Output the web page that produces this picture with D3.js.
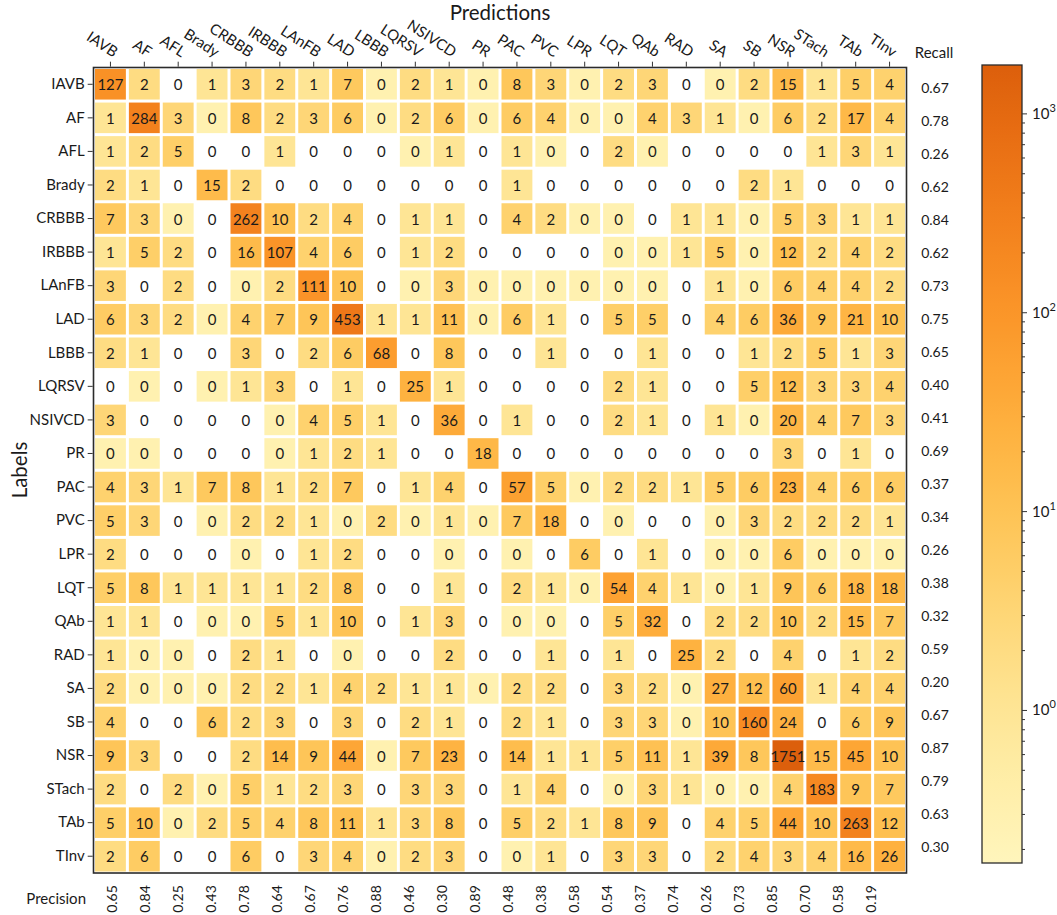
<!DOCTYPE html>
<html>
<head>
<meta charset="utf-8">
<script src="https://cdn.jsdelivr.net/npm/d3@7"></script>
<style>
  html, body { margin: 0; padding: 0; background: #fff; }
  svg { display: block; font-family: Lato, "Open Sans", sans-serif; }
</style>
</head>
<body>
<div id="chart"></div>
<script>
const classes = ["IAVB", "AF", "AFL", "Brady", "CRBBB", "IRBBB", "LAnFB", "LAD", "LBBB", "LQRSV", "NSIVCD", "PR",
    "PAC", "PVC", "LPR", "LQT", "QAb", "RAD", "SA", "SB", "NSR", "STach", "TAb", "TInv"];

// rows = true labels, columns = predictions
const counts = [
    [127, 2, 0, 1, 3, 2, 1, 7, 0, 2, 1, 0, 8, 3, 0, 2, 3, 0, 0, 2, 15, 1, 5, 4],
    [1, 284, 3, 0, 8, 2, 3, 6, 0, 2, 6, 0, 6, 4, 0, 0, 4, 3, 1, 0, 6, 2, 17, 4],
    [1, 2, 5, 0, 0, 1, 0, 0, 0, 0, 1, 0, 1, 0, 0, 2, 0, 0, 0, 0, 0, 1, 3, 1],
    [2, 1, 0, 15, 2, 0, 0, 0, 0, 0, 0, 0, 1, 0, 0, 0, 0, 0, 0, 2, 1, 0, 0, 0],
    [7, 3, 0, 0, 262, 10, 2, 4, 0, 1, 1, 0, 4, 2, 0, 0, 0, 1, 1, 0, 5, 3, 1, 1],
    [1, 5, 2, 0, 16, 107, 4, 6, 0, 1, 2, 0, 0, 0, 0, 0, 0, 1, 5, 0, 12, 2, 4, 2],
    [3, 0, 2, 0, 0, 2, 111, 10, 0, 0, 3, 0, 0, 0, 0, 0, 0, 0, 1, 0, 6, 4, 4, 2],
    [6, 3, 2, 0, 4, 7, 9, 453, 1, 1, 11, 0, 6, 1, 0, 5, 5, 0, 4, 6, 36, 9, 21, 10],
    [2, 1, 0, 0, 3, 0, 2, 6, 68, 0, 8, 0, 0, 1, 0, 0, 1, 0, 0, 1, 2, 5, 1, 3],
    [0, 0, 0, 0, 1, 3, 0, 1, 0, 25, 1, 0, 0, 0, 0, 2, 1, 0, 0, 5, 12, 3, 3, 4],
    [3, 0, 0, 0, 0, 0, 4, 5, 1, 0, 36, 0, 1, 0, 0, 2, 1, 0, 1, 0, 20, 4, 7, 3],
    [0, 0, 0, 0, 0, 0, 1, 2, 1, 0, 0, 18, 0, 0, 0, 0, 0, 0, 0, 0, 3, 0, 1, 0],
    [4, 3, 1, 7, 8, 1, 2, 7, 0, 1, 4, 0, 57, 5, 0, 2, 2, 1, 5, 6, 23, 4, 6, 6],
    [5, 3, 0, 0, 2, 2, 1, 0, 2, 0, 1, 0, 7, 18, 0, 0, 0, 0, 0, 3, 2, 2, 2, 1],
    [2, 0, 0, 0, 0, 0, 1, 2, 0, 0, 0, 0, 0, 0, 6, 0, 1, 0, 0, 0, 6, 0, 0, 0],
    [5, 8, 1, 1, 1, 1, 2, 8, 0, 0, 1, 0, 2, 1, 0, 54, 4, 1, 0, 1, 9, 6, 18, 18],
    [1, 1, 0, 0, 0, 5, 1, 10, 0, 1, 3, 0, 0, 0, 0, 5, 32, 0, 2, 2, 10, 2, 15, 7],
    [1, 0, 0, 0, 2, 1, 0, 0, 0, 0, 2, 0, 0, 1, 0, 1, 0, 25, 2, 0, 4, 0, 1, 2],
    [2, 0, 0, 0, 2, 2, 1, 4, 2, 1, 1, 0, 2, 2, 0, 3, 2, 0, 27, 12, 60, 1, 4, 4],
    [4, 0, 0, 6, 2, 3, 0, 3, 0, 2, 1, 0, 2, 1, 0, 3, 3, 0, 10, 160, 24, 0, 6, 9],
    [9, 3, 0, 0, 2, 14, 9, 44, 0, 7, 23, 0, 14, 1, 1, 5, 11, 1, 39, 8, 1751, 15, 45, 10],
    [2, 0, 2, 0, 5, 1, 2, 3, 0, 3, 3, 0, 1, 4, 0, 0, 3, 1, 0, 0, 4, 183, 9, 7],
    [5, 10, 0, 2, 5, 4, 8, 11, 1, 3, 8, 0, 5, 2, 1, 8, 9, 0, 4, 5, 44, 10, 263, 12],
    [2, 6, 0, 0, 6, 0, 3, 4, 0, 2, 3, 0, 0, 1, 0, 3, 3, 0, 2, 4, 3, 4, 16, 26]
];

// zero cells that still carry a faint shade (value rounded down to 0), column indexes per row
const tintedZeros = [
    [8, 11, 14, 18], [3, 8, 11, 14, 15, 19], [9, 13, 16], [], [2, 14, 15, 19], [15, 16, 19],
    [4, 9, 11, 12, 13, 14, 15, 16, 19], [3, 11], [], [1, 3], [5, 19], [0, 1, 5],
    [14], [3, 7, 9, 11, 15, 18], [4, 10, 12, 18, 19, 21, 22, 23], [14, 18], [3, 4, 12, 13], [1, 2, 7],
    [1, 2, 3, 11, 17], [17], [8], [3, 15, 18, 19], [2], [8, 12]
];
const tintValue = 0.3;

const recall = ["0.67", "0.78", "0.26", "0.62", "0.84", "0.62", "0.73", "0.75", "0.65", "0.40", "0.41", "0.69",
    "0.37", "0.34", "0.26", "0.38", "0.32", "0.59", "0.20", "0.67", "0.87", "0.79", "0.63", "0.30"];
const precision = ["0.65", "0.84", "0.25", "0.43", "0.78", "0.64", "0.67", "0.76", "0.88", "0.46", "0.30", "0.89",
    "0.48", "0.38", "0.58", "0.54", "0.37", "0.74", "0.26", "0.73", "0.85", "0.70", "0.58", "0.19"];

const colorDomain = [0.17, 1751];
const colorMajor = [1, 10, 100, 1000];
const colorMinor = [0.2, 0.3, 0.4, 0.5, 0.6, 0.7, 0.8, 0.9, 2, 3, 4, 5, 6, 7, 8, 9,
    20, 30, 40, 50, 60, 70, 80, 90, 200, 300, 400, 500, 600, 700, 800, 900];

const W = 1057, H = 915;
const box = { left: 93.5, right: 906.5, top: 67.5, bottom: 873 };
const ink = "#1a1a1a";

const svg = d3.select("#chart").append("svg")
    .attr("width", W)
    .attr("height", H)
    .attr("viewBox", `0 0 ${W} ${H}`);

const x = d3.scaleBand().domain(classes).range([box.left, box.right]);
const y = d3.scaleBand().domain(classes).range([box.top, box.bottom]);
const color = d3.scaleSequentialLog(colorDomain, t => d3.interpolateYlOrBr(0.125 + t * 0.56));

// cells
const cells = [];
counts.forEach((row, i) => {
    row.forEach((v, j) => {
        const shade = v > 0 ? v : (tintedZeros[i].includes(j) ? tintValue : null);
        cells.push({ row: classes[i], col: classes[j], v, shade });
    });
});

const gap = 1.5;
svg.append("g").selectAll("rect")
    .data(cells.filter(d => d.shade !== null))
    .join("rect")
    .attr("x", d => x(d.col) + gap)
    .attr("y", d => y(d.row) + gap)
    .attr("width", x.bandwidth() - gap * 2)
    .attr("height", y.bandwidth() - gap * 2)
    .attr("fill", d => color(d.shade));

svg.append("g").selectAll("text")
    .data(cells)
    .join("text")
    .attr("x", d => x(d.col) + x.bandwidth() / 2)
    .attr("y", d => y(d.row) + y.bandwidth() / 2)
    .attr("text-anchor", "middle")
    .attr("dominant-baseline", "central")
    .attr("font-size", 15)
    .attr("fill", ink)
    .text(d => d.v);

// frame
svg.append("rect")
    .attr("x", box.left)
    .attr("y", box.top)
    .attr("width", box.right - box.left)
    .attr("height", box.bottom - box.top)
    .attr("fill", "none")
    .attr("stroke", "#2b2b2b")
    .attr("stroke-width", 1.6);

// row axis
const rowAxis = svg.append("g")
    .attr("transform", `translate(${box.left - 0.8},0)`)
    .call(d3.axisLeft(y).tickSize(5).tickPadding(3));
rowAxis.select(".domain").remove();
rowAxis.selectAll("line").attr("stroke", "#333");
rowAxis.selectAll("text").attr("font-size", 15).attr("font-family", "Lato").attr("fill", ink);

// column axis
const colAxis = svg.append("g")
    .attr("transform", `translate(0,${box.top - 0.8})`)
    .call(d3.axisTop(x).tickSize(5));
colAxis.select(".domain").remove();
colAxis.selectAll("line").attr("stroke", "#333");
colAxis.selectAll("text")
    .attr("font-size", 15)
    .attr("font-family", "Lato")
    .attr("fill", ink)
    .attr("text-anchor", "end")
    .attr("x", 0)
    .attr("y", 0)
    .attr("dy", 0)
    .attr("transform", "translate(3,-9) rotate(33)");

svg.append("text")
    .attr("x", 500)
    .attr("y", 20)
    .attr("text-anchor", "middle")
    .attr("font-size", 20.5)
    .attr("fill", ink)
    .text("Predictions");

svg.append("text")
    .attr("transform", "translate(27,470) rotate(-90)")
    .attr("text-anchor", "middle")
    .attr("font-size", 20.5)
    .attr("fill", ink)
    .text("Labels");

// recall column
const ry = d3.scalePoint().domain(classes).range([87, 846]);
svg.append("text")
    .attr("x", 934)
    .attr("y", 58)
    .attr("text-anchor", "middle")
    .attr("font-size", 15)
    .attr("fill", ink)
    .text("Recall");
svg.append("g").selectAll("text")
    .data(recall)
    .join("text")
    .attr("x", 935)
    .attr("y", (d, i) => ry(classes[i]))
    .attr("text-anchor", "middle")
    .attr("dominant-baseline", "central")
    .attr("font-size", 14)
    .attr("fill", ink)
    .text(d => d);

// precision row
const px = d3.scalePoint().domain(classes).range([111.5, 870.5]);
svg.append("text")
    .attr("x", 86)
    .attr("y", 898)
    .attr("text-anchor", "end")
    .attr("dominant-baseline", "central")
    .attr("font-size", 15)
    .attr("fill", ink)
    .text("Precision");
svg.append("g").selectAll("text")
    .data(precision)
    .join("text")
    .attr("transform", (d, i) => `translate(${px(classes[i])},899) rotate(-90)`)
    .attr("text-anchor", "middle")
    .attr("dominant-baseline", "central")
    .attr("font-size", 14)
    .attr("fill", ink)
    .text(d => d);

// colorbar
const cb = { x: 982, w: 40, top: 65, bottom: 863 };
const cbScale = d3.scaleLog().domain(colorDomain).range([cb.bottom, cb.top]);

const grad = svg.append("defs").append("linearGradient")
    .attr("id", "cbGrad")
    .attr("x1", 0).attr("y1", 1).attr("x2", 0).attr("y2", 0);
grad.selectAll("stop")
    .data(d3.range(0, 1.0001, 0.02))
    .join("stop")
    .attr("offset", d => d)
    .attr("stop-color", d => color(cbScale.invert(cb.bottom - d * (cb.bottom - cb.top))));

svg.append("rect")
    .attr("x", cb.x)
    .attr("y", cb.top)
    .attr("width", cb.w)
    .attr("height", cb.bottom - cb.top)
    .attr("fill", "url(#cbGrad)")
    .attr("stroke", "#2b2b2b")
    .attr("stroke-width", 1.3);

const cbAxis = svg.append("g").attr("transform", `translate(${cb.x + cb.w},0)`);
cbAxis.append("g")
    .call(d3.axisRight(cbScale).tickValues(colorMinor).tickSize(3).tickFormat(""))
    .call(g => g.select(".domain").remove());
const major = cbAxis.append("g")
    .call(d3.axisRight(cbScale).tickValues(colorMajor).tickSize(5).tickFormat(""));
major.select(".domain").remove();
cbAxis.selectAll("line").attr("stroke", "#333");

const tickLabel = major.selectAll(".tick").append("text")
    .attr("x", 10)
    .attr("y", 5)
    .attr("fill", ink)
    .attr("font-size", 15)
    .attr("font-family", "Lato")
    .attr("text-anchor", "start");
tickLabel.append("tspan").text("10");
tickLabel.append("tspan")
    .attr("dy", -7)
    .attr("font-size", 11)
    .text(d => Math.round(Math.log10(d)));
</script>
</body>
</html>
